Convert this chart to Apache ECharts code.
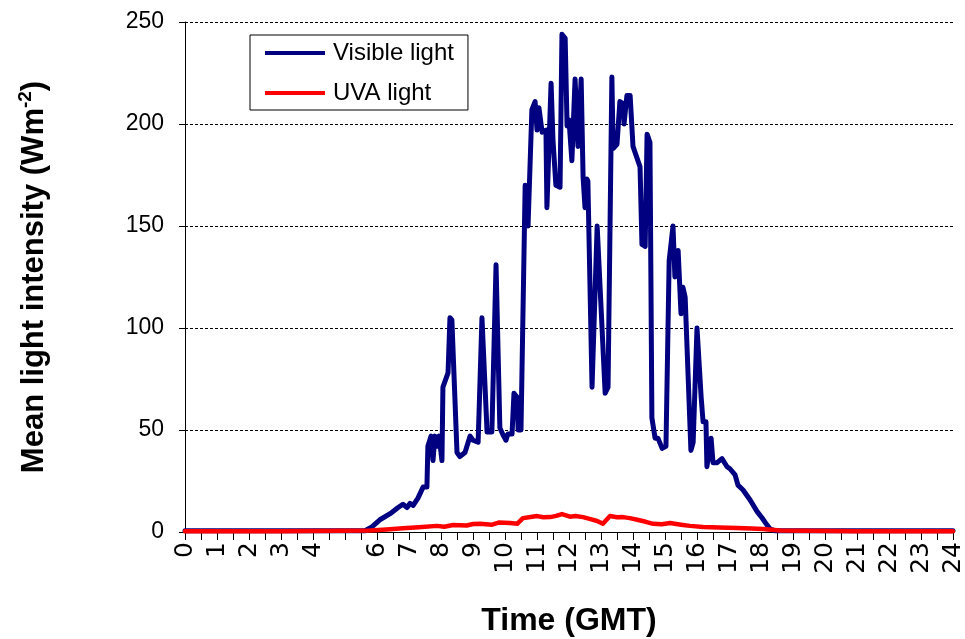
<!DOCTYPE html>
<html>
<head>
<meta charset="utf-8">
<script src="https://cdn.jsdelivr.net/npm/echarts@6/dist/echarts.min.js"></script>
<style>
html,body{margin:0;padding:0;background:#fff;}
#chart{width:965px;height:639px;}
</style>
</head>
<body>
<div id="chart"></div>
<script>
// Time in hours (GMT)
var visibleHours = [0, 2, 4, 5.625, 5.84, 6.09, 6.41, 6.66, 6.81, 6.94, 7.03, 7.13, 7.28, 7.44, 7.56, 7.59, 7.69, 7.75, 7.81, 7.88, 7.94, 8.03, 8.06, 8.22, 8.28, 8.34, 8.5, 8.59, 8.75, 8.91, 9.0, 9.16, 9.28, 9.34, 9.44, 9.59, 9.72, 9.84, 9.94, 10.03, 10.09, 10.22, 10.28, 10.38, 10.41, 10.5, 10.63, 10.72, 10.84, 10.94, 11.0, 11.06, 11.16, 11.28, 11.31, 11.44, 11.5, 11.59, 11.72, 11.78, 11.88, 11.94, 12.0, 12.09, 12.19, 12.25, 12.28, 12.38, 12.44, 12.5, 12.56, 12.59, 12.72, 12.88, 13.13, 13.22, 13.34, 13.38, 13.5, 13.59, 13.69, 13.72, 13.81, 13.91, 14.0, 14.22, 14.28, 14.38, 14.44, 14.53, 14.59, 14.69, 14.78, 14.91, 15.03, 15.13, 15.25, 15.31, 15.41, 15.5, 15.56, 15.63, 15.81, 15.88, 16.0, 16.03, 16.13, 16.19, 16.28, 16.31, 16.44, 16.5, 16.63, 16.78, 16.94, 17.03, 17.19, 17.28, 17.44, 17.66, 17.88, 18.03, 18.19, 18.28, 18.44, 20, 22, 24];
var visibleLight = [0.6, 0.6, 0.6, 0.6, 2.5, 6, 9, 12, 13.6, 12, 14, 13, 16.6, 22, 22, 42, 47, 35, 47, 42, 47, 35, 71, 78, 105, 104, 39, 37, 39, 47, 45, 44, 105, 105, 49, 49, 131, 51, 47.5, 45, 48, 48, 68, 66, 50, 50, 170, 150, 207, 211, 197, 208, 196, 197, 159, 220, 192, 170, 169, 244, 242, 199, 202, 182, 222, 222, 189, 222, 174, 159, 173, 172, 71, 150, 68, 71, 223, 188, 190, 211, 210, 200, 214, 214, 189, 179, 141, 140, 195, 191, 56, 46, 46, 41, 42, 133, 150, 125, 138, 107, 120, 115, 40, 44, 100, 100, 66, 54, 54, 32, 46, 34, 34, 36, 32, 31, 28, 23, 20.6, 15.7, 10, 7, 3.4, 1.5, 0.6, 0.6, 0.6, 0.6];

var uvaHours = [0, 3, 5.78, 6.3, 6.81, 7.3, 7.88, 8.1, 8.38, 8.8, 9.0, 9.22, 9.6, 9.8, 10.16, 10.38, 10.56, 10.8, 11.0, 11.2, 11.41, 11.6, 11.78, 12.03, 12.2, 12.44, 12.7, 12.88, 13.06, 13.28, 13.5, 13.69, 13.9, 14.13, 14.4, 14.63, 14.9, 15.16, 15.5, 15.78, 16.19, 16.7, 17.25, 17.7, 18.06, 18.6, 21, 24];
var uvaLight = [0.4, 0.4, 0.7, 1.2, 1.8, 2.3, 3, 2.6, 3.4, 3.2, 3.9, 4, 3.6, 4.6, 4.4, 4, 6.8, 7.4, 7.8, 7.2, 7.3, 7.9, 8.8, 7.5, 7.8, 7.3, 6.2, 5.4, 4, 7.8, 7.2, 7.3, 6.8, 6, 5, 4, 3.8, 4.4, 3.6, 3, 2.5, 2.2, 2, 1.7, 1.5, 0.7, 0.4, 0.4];

var xTickLabels = ['0','1','2','3','4','','6','7','8','9','10','11','12','13','14','15','16','17','18','19','20','21','22','23','24'];
var yTickValues = [0, 50, 100, 150, 200, 250];

function zip(a, b) { return a.map(function (v, i) { return [v, b[i]]; }); }

var FONT = 'Liberation Sans, Arial, sans-serif';
var chart = echarts.init(document.getElementById('chart'), null, {renderer: 'canvas'});
chart.setOption({
  animation: false,
  backgroundColor: '#fff',
  grid: {left: 185, right: 12, top: 22, bottom: 107, containLabel: false, outerBoundsMode: 'none'},
  legend: {
    orient: 'vertical',
    left: 250, top: 35,
    padding: [6, 14, 5, 15],
    borderColor: '#000', borderWidth: 1, borderRadius: 0,
    backgroundColor: '#fff',
    icon: 'rect',
    itemWidth: 60, itemHeight: 4, itemGap: 16,
    textStyle: {fontFamily: FONT, fontSize: 24, lineHeight: 24, color: '#000', padding: [0, 0, 0, 3]},
    data: ['Visible light', 'UVA light']
  },
  xAxis: {
    type: 'value', min: 0, max: 24, interval: 0.5,
    name: 'Time (GMT)', nameLocation: 'middle', nameGap: 73,
    nameTextStyle: {fontFamily: FONT, fontSize: 32, fontWeight: 'bold', color: '#000', verticalAlign: 'top'},
    axisLine: {show: true, lineStyle: {color: '#000', width: 1}},
    axisTick: {show: true, length: 8, lineStyle: {color: '#000'}},
    splitLine: {show: false},
    axisLabel: {
      rotate: 90, margin: 10, color: '#000', fontFamily: 'DejaVu Sans, sans-serif', fontSize: 25,
      formatter: function (v) {
        if (Math.abs(v - Math.round(v)) > 1e-6) return '';
        return xTickLabels[Math.round(v)] || '';
      }
    }
  },
  yAxis: {
    type: 'value', min: 0, max: 250, interval: 50,
    name: '{a|Mean light intensity (Wm}{s|-2}{a|)}',
    nameLocation: 'middle', nameGap: 133, nameRotate: 90,
    nameTextStyle: {
      color: '#000',
      rich: {
        a: {fontFamily: FONT, fontSize: 31, fontWeight: 'bold', color: '#000', lineHeight: 36},
        s: {fontFamily: FONT, fontSize: 19, fontWeight: 'bold', color: '#000', verticalAlign: 'top', lineHeight: 36, padding: [0, 0, 14, 0]}
      }
    },
    axisLine: {show: true, lineStyle: {color: '#000', width: 1}},
    axisTick: {show: true, length: 6, lineStyle: {color: '#000'}},
    splitLine: {show: true, lineStyle: {color: '#000', type: [3, 2], width: 1}},
    axisLabel: {
      margin: 21, color: '#000', fontFamily: FONT, fontSize: 23,
      formatter: function (v) { return yTickValues.indexOf(v) >= 0 ? String(v) : ''; }
    }
  },
  series: [
    {
      name: 'Visible light', type: 'line', symbol: 'none', showSymbol: false,
      data: zip(visibleHours, visibleLight),
      lineStyle: {color: '#000080', width: 5, join: 'round', cap: 'round'},
      itemStyle: {color: '#000080'}
    },
    {
      name: 'UVA light', type: 'line', symbol: 'none', showSymbol: false,
      data: zip(uvaHours, uvaLight),
      lineStyle: {color: '#ff0000', width: 4.5, join: 'round', cap: 'round'},
      itemStyle: {color: '#ff0000'}
    }
  ]
});
</script>
</body>
</html>
